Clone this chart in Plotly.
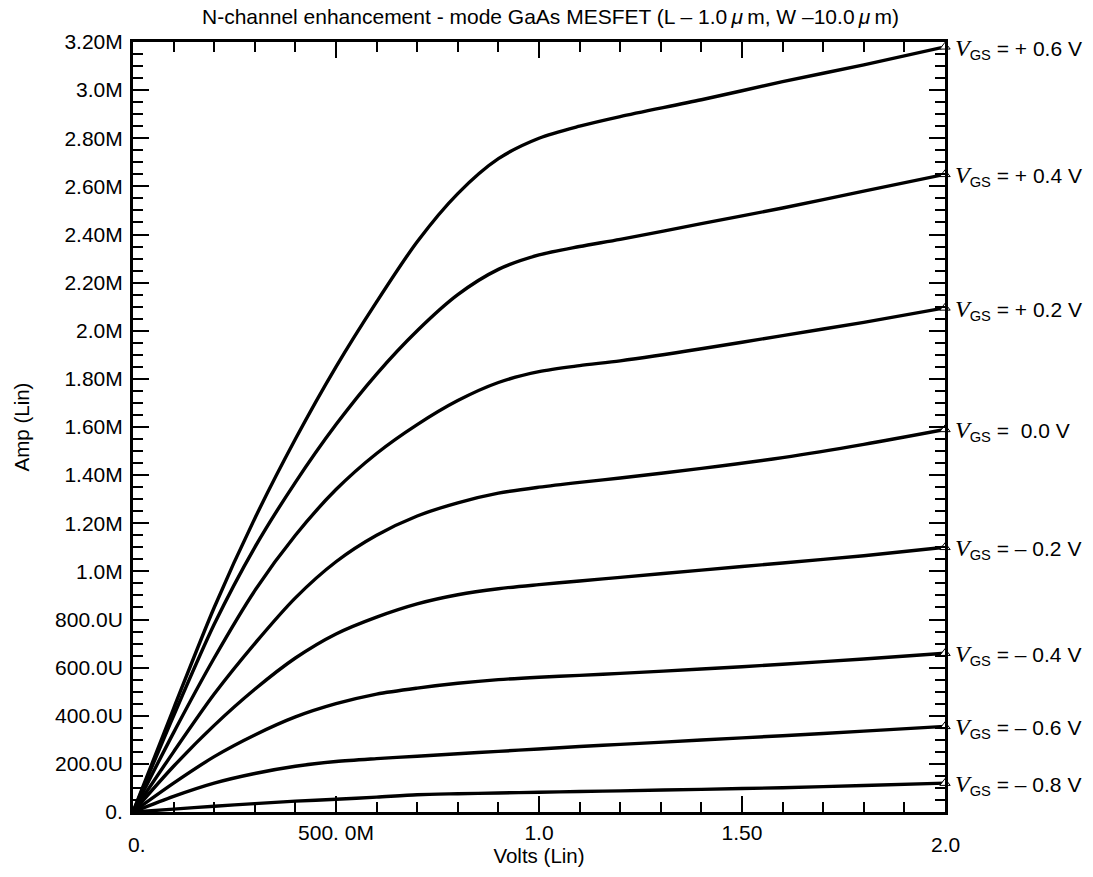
import plotly.graph_objects as go

# drain voltage (V)
volts = [0, 0.1, 0.2, 0.3, 0.4, 0.5, 0.6, 0.7, 0.8, 0.9, 1.0, 1.1, 1.2, 1.4, 1.6, 1.8, 2.0]

# drain current (mA) for each gate voltage
id_p06 = [0, 0.43, 0.85, 1.22, 1.55, 1.85, 2.12, 2.37, 2.57, 2.715, 2.80, 2.85, 2.89, 2.96, 3.035, 3.105, 3.18]
id_p04 = [0, 0.40, 0.78, 1.10, 1.37, 1.61, 1.82, 2.00, 2.15, 2.255, 2.315, 2.35, 2.38, 2.445, 2.51, 2.58, 2.65]
id_p02 = [0, 0.33, 0.64, 0.92, 1.15, 1.34, 1.49, 1.61, 1.71, 1.785, 1.83, 1.855, 1.875, 1.925, 1.98, 2.035, 2.095]
id_000 = [0, 0.25, 0.49, 0.70, 0.89, 1.04, 1.15, 1.23, 1.285, 1.325, 1.35, 1.37, 1.388, 1.428, 1.473, 1.528, 1.59]
id_m02 = [0, 0.19, 0.36, 0.51, 0.64, 0.74, 0.81, 0.865, 0.903, 0.928, 0.945, 0.96, 0.975, 1.005, 1.035, 1.065, 1.10]
id_m04 = [0, 0.12, 0.23, 0.32, 0.395, 0.45, 0.49, 0.515, 0.535, 0.55, 0.56, 0.568, 0.576, 0.594, 0.614, 0.636, 0.66]
id_m06 = [0, 0.065, 0.12, 0.16, 0.19, 0.21, 0.222, 0.232, 0.242, 0.252, 0.262, 0.272, 0.281, 0.299, 0.317, 0.336, 0.356]
id_m08 = [0, 0.012, 0.024, 0.035, 0.045, 0.053, 0.062, 0.072, 0.076, 0.079, 0.082, 0.085, 0.088, 0.094, 0.101, 0.11, 0.12]

curves = [id_p06, id_p04, id_p02, id_000, id_m02, id_m04, id_m06, id_m08]
vgs_labels = ["+ 0.6 V", "+ 0.4 V", "+ 0.2 V", "\u00a00.0 V", "\u2013 0.2 V", "\u2013 0.4 V", "\u2013 0.6 V", "\u2013 0.8 V"]

y_ticks = [0, 0.2, 0.4, 0.6, 0.8, 1.0, 1.2, 1.4, 1.6, 1.8, 2.0, 2.2, 2.4, 2.6, 2.8, 3.0, 3.2]
y_ticktext = ["0.", "200.0U", "400.0U", "600.0U", "800.0U", "1.0M", "1.20M", "1.40M", "1.60M",
              "1.80M", "2.0M", "2.20M", "2.40M", "2.60M", "2.80M", "3.0M", "3.20M"]
x_ticks = [0.5, 1.0, 1.5]
x_ticktext = ["500. 0M", "1.0", "1.50"]
x_end_labels = {0: "0.", 2.0: "2.0"}

FONT = "Liberation Sans, Arial, sans-serif"

fig = go.Figure()
for ys in curves:
    fig.add_trace(go.Scatter(x=volts, y=ys, mode="lines",
                             line=dict(color="black", width=3.4, shape="spline", smoothing=0.8),
                             showlegend=False, hoverinfo="skip"))

# open triangles at the curve ends
fig.add_trace(go.Scatter(x=[volts[-1]] * len(curves), y=[c[-1] for c in curves], mode="markers",
                         marker=dict(symbol="triangle-up", size=9, color="white",
                                     line=dict(color="black", width=1)),
                         cliponaxis=False, showlegend=False, hoverinfo="skip"))

for ys, lab in zip(curves, vgs_labels):
    fig.add_annotation(x=volts[-1], y=ys[-1], xref="x", yref="y", xanchor="left", yanchor="middle",
                       xshift=8, yshift=-2, showarrow=False,
                       text='<span style="font-family:Liberation Serif;font-style:italic;font-size:24px">V</span>'
                            '<sub>GS</sub> = ' + lab,
                       font=dict(family=FONT, size=21, color="black"))

for xv, txt in x_end_labels.items():
    fig.add_annotation(x=xv, y=0, xref="x", yref="paper", yanchor="top", yshift=-19,
                       xshift=4 if xv == 0 else 0,
                       showarrow=False, text=txt, font=dict(family=FONT, size=21, color="black"))

# page body adds an 8px offset, so the figure is a bit smaller than the window
fig.update_layout(
    width=1085, height=869,
    margin=dict(l=125, r=148, t=34, b=62),
    paper_bgcolor="white", plot_bgcolor="white",
    font=dict(family=FONT, size=21, color="black"),
    title=dict(text="N-channel enhancement - mode GaAs MESFET (L \u2013 1.0\u2009<i>\u03bc</i>\u2009m, W \u201310.0\u2009<i>\u03bc</i>\u2009m)",
               x=0.5, xanchor="center", y=0.9895, yanchor="middle", font=dict(family=FONT, size=21)),
)
fig.update_xaxes(
    range=[0, 2.0], showgrid=False, zeroline=False,
    showline=True, linecolor="black", linewidth=3, mirror="ticks",
    ticks="inside", ticklen=16, tickwidth=1.5, tickcolor="black",
    tickmode="array", tickvals=x_ticks, ticktext=x_ticktext, ticklabelstandoff=0,
    minor=dict(tickmode="linear", tick0=0, dtick=0.1, ticks="inside", ticklen=10,
               tickwidth=1.5, tickcolor="black"),
    title=dict(text="Volts (Lin)", standoff=6, font=dict(size=20.5)),
    tickfont=dict(size=21),
)
fig.update_yaxes(
    range=[0, 3.2], showgrid=False, zeroline=False,
    showline=True, linecolor="black", linewidth=3, mirror="ticks",
    ticks="inside", ticklen=16, tickwidth=1.5, tickcolor="black",
    tickmode="array", tickvals=y_ticks, ticktext=y_ticktext, ticklabelstandoff=3,
    minor=dict(tickmode="linear", tick0=0, dtick=0.05, ticks="inside", ticklen=10,
               tickwidth=1.5, tickcolor="black"),
    title=dict(text="Amp (Lin)", standoff=20, font=dict(size=20.5)),
    tickfont=dict(size=21),
)

fig.write_html("out.html")
